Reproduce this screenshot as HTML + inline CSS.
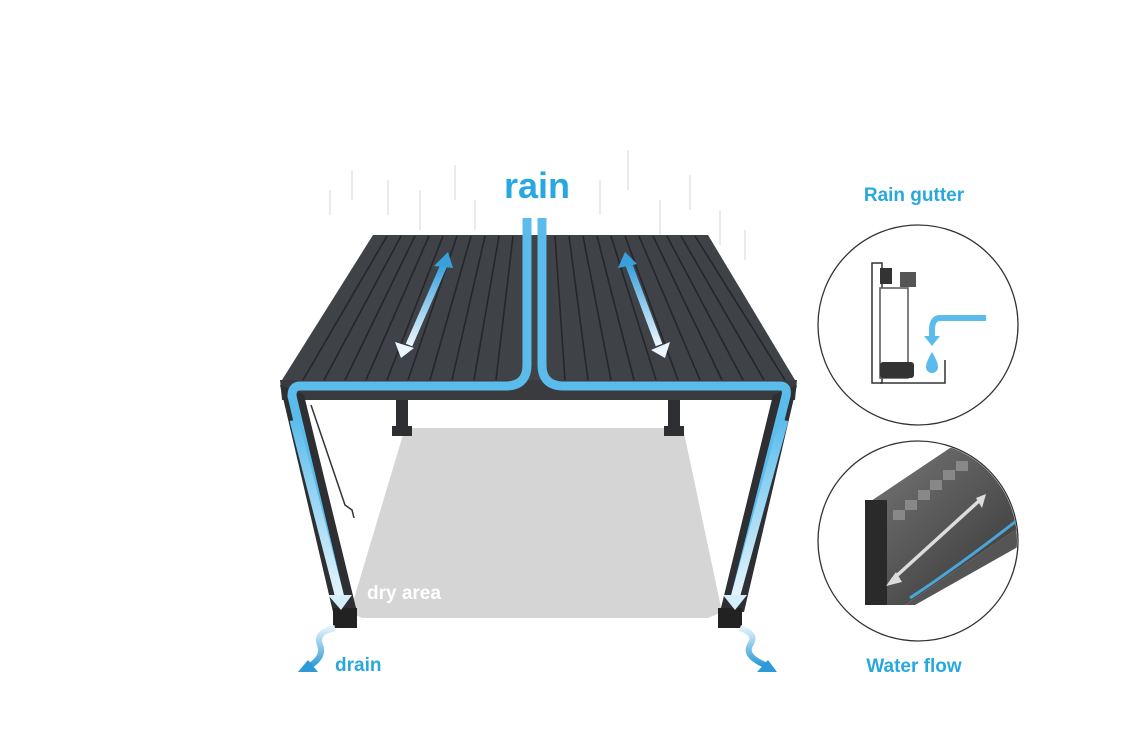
<!DOCTYPE html>
<html><head><meta charset="utf-8"><style>
html,body{margin:0;padding:0;background:#fff;}
svg{display:block;}
text{font-family:"Liberation Sans",sans-serif;font-weight:bold;}
</style></head><body>
<svg width="1145" height="745" viewBox="0 0 1145 745" xmlns="http://www.w3.org/2000/svg">
<defs>
<linearGradient id="legL" x1="0" y1="0" x2="0" y2="1"><stop offset="0" stop-color="#5bbcec"/><stop offset="1" stop-color="#e6f5fc"/></linearGradient>
<linearGradient id="arr" x1="0" y1="0" x2="0" y2="1"><stop offset="0" stop-color="#3aa0dc"/><stop offset="1" stop-color="#eaf6fd"/></linearGradient>
<linearGradient id="drn" x1="0" y1="0" x2="0" y2="1"><stop offset="0" stop-color="#e0f2fb"/><stop offset="1" stop-color="#2d9ad8"/></linearGradient>
<linearGradient id="gut" x1="0" y1="0" x2="1" y2="1"><stop offset="0" stop-color="#777"/><stop offset="1" stop-color="#333"/></linearGradient>
<clipPath id="c2"><circle cx="918" cy="541" r="99"/></clipPath>
</defs>
<!-- rain streaks -->
<g stroke="#dfe5ea" stroke-width="2" opacity="0.7">
<line x1="330" y1="190" x2="330" y2="215"/><line x1="352" y1="170" x2="352" y2="200"/><line x1="388" y1="180" x2="388" y2="215"/><line x1="420" y1="190" x2="420" y2="230"/><line x1="455" y1="165" x2="455" y2="200"/><line x1="475" y1="200" x2="475" y2="230"/><line x1="600" y1="180" x2="600" y2="215"/><line x1="628" y1="150" x2="628" y2="190"/><line x1="660" y1="200" x2="660" y2="235"/><line x1="690" y1="175" x2="690" y2="210"/><line x1="720" y1="210" x2="720" y2="245"/><line x1="745" y1="230" x2="745" y2="260"/>
</g>
<!-- dry area -->
<polygon points="405,428 683,428 722,612 708,618 362,618 350,612" fill="#d5d5d5"/>
<!-- back legs -->
<rect x="396" y="398" width="12" height="30" fill="#2d2f33"/><rect x="392" y="426" width="20" height="10" fill="#2d2f33"/>
<rect x="668" y="398" width="12" height="30" fill="#2d2f33"/><rect x="664" y="426" width="20" height="10" fill="#2d2f33"/>
<!-- front beam -->
<polygon points="280,380 797,380 795,400 282,400" fill="#3a3b3e"/>
<!-- legs -->
<polygon points="280,385 304,395 357,612 333,612" fill="#2d2f33"/>
<polygon points="797,385 773,395 720,612 744,612" fill="#2d2f33"/>
<rect x="333" y="608" width="24" height="20" fill="#222"/>
<rect x="718" y="608" width="24" height="20" fill="#222"/>
<!-- roof -->
<polygon points="373,235 708,235 795,380 282,380" fill="#3f4247"/>
<g stroke="#24262a" stroke-width="1.6">
<line x1="387" y1="236" x2="303" y2="380"/><line x1="401" y1="236" x2="324" y2="380"/><line x1="415" y1="236" x2="345" y2="380"/><line x1="429" y1="236" x2="366" y2="380"/><line x1="443" y1="236" x2="387" y2="380"/><line x1="457" y1="236" x2="408" y2="380"/><line x1="471" y1="236" x2="430" y2="380"/><line x1="485" y1="236" x2="452" y2="380"/><line x1="499" y1="236" x2="474" y2="380"/><line x1="513" y1="236" x2="496" y2="380"/>
<line x1="555" y1="236" x2="565" y2="380"/><line x1="569" y1="236" x2="588" y2="380"/><line x1="583" y1="236" x2="611" y2="380"/><line x1="597" y1="236" x2="634" y2="380"/><line x1="611" y1="236" x2="656" y2="380"/><line x1="625" y1="236" x2="678" y2="380"/><line x1="639" y1="236" x2="700" y2="380"/><line x1="653" y1="236" x2="722" y2="380"/><line x1="667" y1="236" x2="743" y2="380"/><line x1="681" y1="236" x2="764" y2="380"/><line x1="695" y1="236" x2="785" y2="380"/>
</g>
<!-- blue flow paths -->
<path d="M527,218 V365 Q527,385 507,386 H300 Q292,386 292,396 L340,598" fill="none" stroke="#5bbcec" stroke-width="9"/>
<path d="M542,218 V365 Q542,385 562,386 H780 Q788,386 786,396 L735,598" fill="none" stroke="#5bbcec" stroke-width="9"/>
<path d="M294,420 L340,598" stroke="url(#legL)" stroke-width="9"/>
<path d="M784,420 L735,598" stroke="url(#legL)" stroke-width="9"/>
<polygon points="328,595 352,595 341,610" fill="#d4eefa"/>
<polygon points="723,595 747,595 735,610" fill="#d4eefa"/>
<!-- roof arrows -->
<g stroke-width="7">
<line x1="444" y1="265" x2="409" y2="345" stroke="url(#arr)"/>
<line x1="629" y1="265" x2="659" y2="345" stroke="url(#arr)"/>
</g>
<polygon points="448,252 434,266 453,268" fill="#3aa0dc"/><polygon points="401,358 395,342 414,348" fill="#eaf6fd"/>
<polygon points="625,252 618,268 637,264" fill="#3aa0dc"/><polygon points="665,358 651,350 670,342" fill="#eaf6fd"/>
<!-- drain arrows -->
<path d="M335,628 Q315,632 320,645 Q325,657 308,667" fill="none" stroke="url(#drn)" stroke-width="6"/>
<polygon points="298,672 318,672 308,660" fill="#2d9ad8"/>
<path d="M740,628 Q758,634 750,645 Q744,656 765,665" fill="none" stroke="url(#drn)" stroke-width="6"/>
<polygon points="777,672 757,672 768,660" fill="#2d9ad8"/>
<!-- crank -->
<path d="M311,405 L345,505 L352,510 L354,518" fill="none" stroke="#333" stroke-width="1.5"/>
<!-- labels -->
<text x="537" y="198" font-size="36" fill="#29a8e0" text-anchor="middle">rain</text>
<text x="367" y="599" font-size="19" fill="#fff" font-weight="normal">dry area</text>
<text x="335" y="671" font-size="19" fill="#29a8e0">drain</text>
<text x="914" y="201" font-size="19" fill="#29a8e0" text-anchor="middle">Rain gutter</text>
<text x="914" y="672" font-size="19" fill="#29a8e0" text-anchor="middle">Water flow</text>
<!-- circle 1 -->
<circle cx="918" cy="325" r="100" fill="#fff" stroke="#333" stroke-width="1.3"/>
<rect x="872" y="263" width="10" height="120" fill="none" stroke="#333" stroke-width="1.5"/>
<rect x="880" y="288" width="28" height="90" fill="#fff" stroke="#555" stroke-width="1.5"/>
<rect x="900" y="272" width="16" height="15" fill="#555"/>
<rect x="880" y="268" width="12" height="16" fill="#333"/>
<rect x="880" y="362" width="34" height="16" rx="3" fill="#333"/>
<path d="M880,383 H945 V360" fill="none" stroke="#333" stroke-width="1.5"/>
<path d="M986,318 H940 Q932,318 932,330 V338" fill="none" stroke="#5bbcec" stroke-width="6"/>
<polygon points="924,336 940,336 932,346" fill="#5bbcec"/>
<path d="M932,352 Q926,362 926,367 A6,6 0 0 0 938,367 Q938,362 932,352Z" fill="#5bbcec"/>
<!-- circle 2 -->
<circle cx="918" cy="541" r="100" fill="#fff" stroke="#333" stroke-width="1.3"/>
<g clip-path="url(#c2)">
<polygon points="865,505 950,448 1030,450 1030,520 905,605 870,605" fill="url(#gut)"/>
<polygon points="905,605 1030,520 1030,540 915,605" fill="#555"/>
<rect x="865" y="500" width="22" height="105" fill="#2a2a2a"/>
<g fill="#888"><rect x="893" y="510" width="12" height="10"/><rect x="905" y="500" width="12" height="10"/><rect x="918" y="490" width="12" height="10"/><rect x="930" y="480" width="12" height="10"/><rect x="943" y="470" width="12" height="10"/><rect x="956" y="461" width="12" height="10"/></g>
<path d="M910,598 Q960,565 1020,518" fill="none" stroke="#4aa6d8" stroke-width="3"/>
</g>
<line x1="892" y1="580" x2="980" y2="500" stroke="#ddd" stroke-width="3.5"/>
<polygon points="886,586 896,572 902,582" fill="#ddd"/><polygon points="986,494 976,498 982,508" fill="#ddd"/>
</svg>
</body></html>
